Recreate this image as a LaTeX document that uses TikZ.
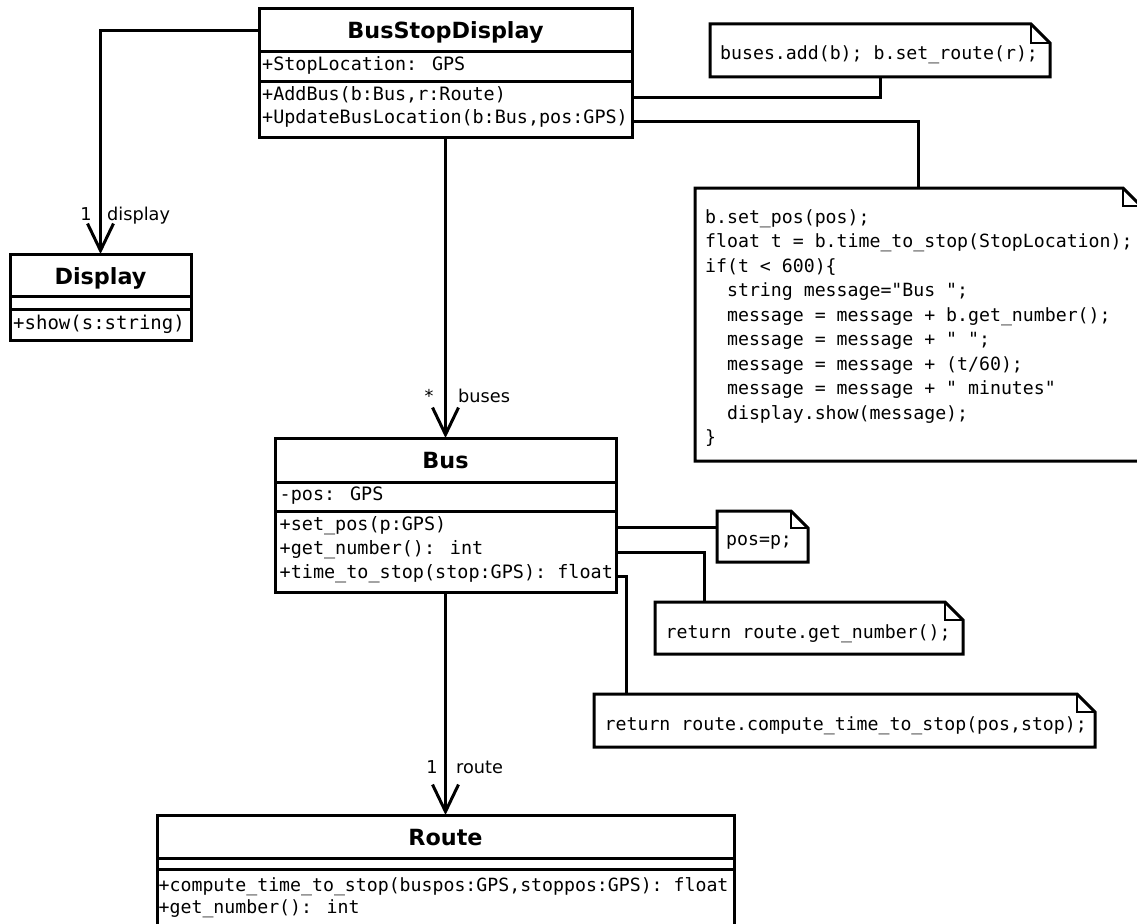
\documentclass[tikz,border=0pt]{standalone}
\usepackage{fontspec}
\usetikzlibrary{arrows.meta}
\newfontfamily\umlsans{DejaVu Sans}
\newfontfamily\umlmono{DejaVu Sans Mono}
\newcommand\drawnote[2]{%
  \draw[noteline] (#1.south west) -- (#1.north west) -- ([xshift=-#2]#1.north east) -- ([yshift=-#2]#1.north east) -- (#1.south east) -- cycle;
  \draw[foldline] ([xshift=-#2]#1.north east) -- ([xshift=-#2,yshift=-#2]#1.north east) -- ([yshift=-#2]#1.north east);}
\tikzset{
  cls/.style={draw, line width=3pt, inner sep=0pt, outer sep=0pt, anchor=north west},
  sepline/.style={line width=3pt},
  ttl/.style={anchor=base, inner sep=0pt, font=\umlsans\bfseries\fontsize{22.3}{26}\selectfont},
  mem/.style={anchor=base west, inner sep=0pt, font=\umlmono\fontsize{#1}{24.5}\selectfont},
  mem/.default=18.2,
  lbl/.style={anchor=base, inner sep=0pt, font=\umlsans\fontsize{17.7}{20}\selectfont},
  lblw/.style={lbl, anchor=base west},
  assoc/.style={line width=3pt, -{Straight Barb[length=27pt,width=26pt]}},
  conn/.style={line width=3pt},
  notebox/.style={inner sep=0pt, outer sep=0pt, anchor=north west},
  noteline/.style={line width=3pt, line join=miter},
  foldline/.style={line width=1.5pt},
}
\begin{document}
\begin{tikzpicture}[x=1pt,y=-1pt]
\useasboundingbox (0,0) rectangle (1137,923);
\clip (0,0) rectangle (1137,923);
\fill[white] (0,0) rectangle (1137,923);

% ---------- classes ----------
\node[cls, minimum width=373pt, minimum height=128pt] (bsd) at (259,9) {};
\draw[sepline] ([yshift=-43pt]bsd.north west) -- ([yshift=-43pt]bsd.north east);
\draw[sepline] ([yshift=-73pt]bsd.north west) -- ([yshift=-73pt]bsd.north east);
\node[ttl] (bsdt) at (445.5,39) {BusStopDisplay};
\node[mem=18.4] (bsda) at (262,71) {+StopLocation: GPS};
\node[mem=18.4] (bsdm1) at (262,100.5) {+AddBus(b:Bus,r:Route)};
\node[mem=18.4] (bsdm2) at (262,124) {+UpdateBusLocation(b:Bus,pos:GPS)};

\node[cls, minimum width=181pt, minimum height=86pt] (disp) at (10,254) {};
\draw[sepline] ([yshift=-42pt]disp.north west) -- ([yshift=-42pt]disp.north east);
\draw[sepline] ([yshift=-55pt]disp.north west) -- ([yshift=-55pt]disp.north east);
\node[ttl] (dispt) at (100.5,284) {Display};
\node[mem=19] (dispm) at (13,329) {+show(s:string)};

\node[cls, minimum width=341pt, minimum height=154pt] (bus) at (275,438) {};
\draw[sepline] ([yshift=-44pt]bus.north west) -- ([yshift=-44pt]bus.north east);
\draw[sepline] ([yshift=-73pt]bus.north west) -- ([yshift=-73pt]bus.north east);
\node[ttl] (bust) at (445.5,468) {Bus};
\node[mem=18.45] (busa) at (279.5,500) {-pos: GPS};
\node[mem=18.45] (busm1) at (279.5,530) {+set\_pos(p:GPS)};
\node[mem=18.45] (busm2) at (279.5,554) {+get\_number(): int};
\node[mem=18.45] (busm3) at (279.5,578) {+time\_to\_stop(stop:GPS): float};

\node[cls, minimum width=577pt, minimum height=135pt] (route) at (157,815) {};
\draw[sepline] ([yshift=-43pt]route.north west) -- ([yshift=-43pt]route.north east);
\draw[sepline] ([yshift=-54pt]route.north west) -- ([yshift=-54pt]route.north east);
\node[ttl] (routet) at (445.5,845) {Route};
\node[mem] (routem1) at (158.5,891) {+compute\_time\_to\_stop(buspos:GPS,stoppos:GPS): float};
\node[mem] (routem2) at (158.5,913) {+get\_number(): int};

% ---------- associations ----------
\draw[assoc] ([yshift=-22pt]bsd.north west) -| (disp.north);
\node[lbl] (m1) at (86,220) {1};
\node[lblw] (r1) at (107,220) {display};
\draw[assoc] (bsd.south) -- (bus.north);
\node[lbl] (m2) at (429,402) {*};
\node[lblw] (r2) at (458,402) {buses};
\draw[assoc] (bus.south) -- (route.north);
\node[lbl] (m3) at (432,773) {1};
\node[lblw] (r3) at (456,773) {route};

% ---------- notes ----------
\node[notebox, minimum width=340pt, minimum height=53pt] (n1) at (710,24) {};
\drawnote{n1}{19pt}
\node[mem] (n1t) at (720,60) {buses.add(b); b.set\_route(r);};

\node[notebox, minimum width=446pt, minimum height=273pt] (n2) at (695,188) {};
\drawnote{n2}{18pt}
\node[mem] (c1) at (705,223) {b.set\_pos(pos);};
\node[mem] (c2) at (705,247.5) {float t = b.time\_to\_stop(StopLocation);};
\node[mem] (c3) at (705,272) {if(t < 600)\{};
\node[mem] (c4) at (726.9,296.5) {string message="Bus ";};
\node[mem] (c5) at (726.9,321) {message = message + b.get\_number();};
\node[mem] (c6) at (726.9,345.5) {message = message + " ";};
\node[mem] (c7) at (726.9,370) {message = message + (t/60);};
\node[mem] (c8) at (726.9,394.5) {message = message + " minutes"};
\node[mem] (c9) at (726.9,419) {display.show(message);};
\node[mem] (c10) at (705,443.5) {\}};

\node[notebox, minimum width=91pt, minimum height=51pt] (n3) at (717,511) {};
\drawnote{n3}{17pt}
\node[mem] (n3t) at (726,545) {pos=p;};

\node[notebox, minimum width=308pt, minimum height=52pt] (n4) at (655,602) {};
\drawnote{n4}{18pt}
\node[mem] (n4t) at (665.5,638) {return route.get\_number();};

\node[notebox, minimum width=501pt, minimum height=53pt] (n5) at (594,694) {};
\drawnote{n5}{18pt}
\node[mem] (n5t) at (604.5,730) {return route.compute\_time\_to\_stop(pos,stop);};

% ---------- note connectors ----------
\draw[conn] ([yshift=-89pt]bsd.north east) -| (n1.south);
\draw[conn] ([yshift=-113pt]bsd.north east) -| (n2.north);
\draw[conn] ([yshift=-89pt]bus.north east) -- ([yshift=-16pt]n3.north west);
\draw[conn] ([yshift=-114pt]bus.north east) -| ([xshift=49pt]n4.north west);
\draw[conn] ([yshift=-138pt]bus.north east) -| ([xshift=32pt]n5.north west);
\end{tikzpicture}
\end{document}
